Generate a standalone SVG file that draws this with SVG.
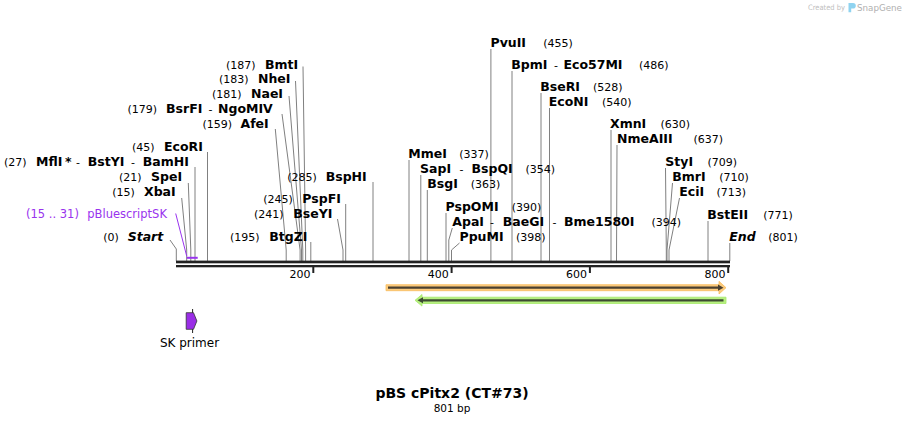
<svg xmlns="http://www.w3.org/2000/svg" width="906" height="424" viewBox="0 0 906 424">
<style>
text{font-family:"DejaVu Sans",Verdana,sans-serif;fill:#000}
.n{font-size:11px}
.b{font-size:12.5px;font-weight:bold}
.bi{font-size:12.5px;font-weight:bold;font-style:italic}
.p{fill:#9933ee;font-size:11.5px}
.cut{stroke:#808080;stroke-width:1;fill:none}
.tick{stroke:#222;stroke-width:2}
.rl{font-size:11px;text-anchor:end}
</style>
<rect width="906" height="424" fill="#fff"/>
<g id="logo">
<text x="808" y="10" textLength="37" lengthAdjust="spacingAndGlyphs" style="font-size:7.5px;fill:#c0c0c0">Created by</text>
<path d="M848.5 3 h4.5 a2.8 2.8 0 0 1 0 5.6 h-1.8 v3.6 h-2.7 z" fill="#8fd3f0"/>
<text x="857" y="10.5" textLength="45" lengthAdjust="spacingAndGlyphs" style="font-size:9px;fill:#b0b0b0">SnapGene</text>
</g>
<g id="connectors">
<polyline class="cut" points="303,66.5 305.6,250 305.6,261"/>
<polyline class="cut" points="295.5,81 302.8,250 302.8,261"/>
<polyline class="cut" points="289,96 301.5,250 301.5,261"/>
<polyline class="cut" points="282,114 300.1,250 300.1,261"/>
<polyline class="cut" points="275.3,129 286.2,250 286.2,261"/>
<polyline class="cut" points="207.5,152 207.5,261"/>
<polyline class="cut" points="195,167 195,261"/>
<polyline class="cut" points="188.3,183 190.8,250 190.8,261"/>
<polyline class="cut" points="181.7,198 186.7,250 186.7,261"/>
<polyline points="175.7,213.5 186.7,256" stroke="#9933ee" stroke-width="1" fill="none"/>
<polyline class="cut" points="170,240 176.3,249 176.3,261"/>
<polyline class="cut" points="310.8,242 310.8,261"/>
<polyline class="cut" points="337.5,219 343,250 343,261"/>
<polyline class="cut" points="345.7,204 345.7,261"/>
<polyline class="cut" points="373,182 373,261"/>
<polyline class="cut" points="490.9,49 490.9,261"/>
<polyline class="cut" points="512,71 512,261"/>
<polyline class="cut" points="541,93 541,261"/>
<polyline class="cut" points="549.5,108 549.5,261"/>
<polyline class="cut" points="611,130 611,261"/>
<polyline class="cut" points="617,145 616.5,261"/>
<polyline class="cut" points="409,160 409,261"/>
<polyline class="cut" points="420.8,175 420.8,261"/>
<polyline class="cut" points="427.3,190 427.3,261"/>
<polyline class="cut" points="446,213 446,261"/>
<polyline class="cut" points="452.3,228 448.8,240 448.8,261"/>
<polyline class="cut" points="459.5,243 451.5,250 451.5,261"/>
<polyline class="cut" points="665.5,168 666.3,250 666.3,261"/>
<polyline class="cut" points="672.5,183 667,250 667,261"/>
<polyline class="cut" points="679.5,198 669,250 669,261"/>
<polyline class="cut" points="708,221 708,261"/>
<polyline class="cut" points="729.8,243 729.8,261"/>
</g>
<g id="backbone">
<rect x="176" y="260.6" width="554" height="2.7" fill="#222"/>
<rect x="176" y="265" width="554" height="2.3" fill="#222"/>
<rect x="186.7" y="256.8" width="11" height="2" fill="#9933ee"/>
<line class="tick" x1="313.3" y1="267" x2="313.3" y2="273"/>
<line class="tick" x1="451.6" y1="267" x2="451.6" y2="273"/>
<line class="tick" x1="589.9" y1="267" x2="589.9" y2="273"/>
<line class="tick" x1="728.2" y1="267" x2="728.2" y2="273"/>
<text class="rl" x="310.5" y="278">200</text>
<text class="rl" x="448.8" y="278">400</text>
<text class="rl" x="587.1" y="278">600</text>
<text class="rl" x="725.4" y="278">800</text>
</g>
<g id="feature-orange">
<path d="M386,284.7 H719 V281.3 L726,287.7 L719,294 V290.7 H386 Z" fill="#fccb7d" stroke="#f7bd5e" stroke-width="0.8"/>
<path d="M388,286.6 H718 V284.6 L723.5,287.7 L718,290.8 V288.8 H388 Z" fill="#4a4030"/>
</g>
<g id="feature-green">
<path d="M415,300.3 L422,294.5 V297.2 H726 V303.5 H422 V306.1 Z" fill="#b6f07f" stroke="#a6e86b" stroke-width="0.8"/>
<path d="M417.5,300.3 L423,297.3 V299.2 H723.5 V301.5 H423 V303.3 Z" fill="#3d4a32"/>
</g>
<g id="sk-primer">
<line x1="192.6" y1="309" x2="192.6" y2="333" stroke="#222" stroke-width="1"/>
<path d="M186.2,312.7 H193.5 L196.9,321 L193.5,329.3 H186.2 Z" fill="#9a2ee6" stroke="#333" stroke-width="0.8"/>
<text x="189.5" y="347" text-anchor="middle" style="font-size:12px">SK primer</text>
</g>
<g id="enz-BmtI"><text><tspan class="n" x="226" y="68.5">(187)</tspan><tspan class="b" x="265" y="68.5">BmtI</tspan></text></g>
<g id="enz-NheI"><text><tspan class="n" x="219" y="83">(183)</tspan><tspan class="b" x="258" y="83">NheI</tspan></text></g>
<g id="enz-NaeI"><text><tspan class="n" x="212" y="98">(181)</tspan><tspan class="b" x="251" y="98">NaeI</tspan></text></g>
<g id="enz-BsrFI"><text><tspan class="n" x="127.5" y="113">(179)</tspan><tspan class="b" x="166" y="113">BsrFI</tspan><tspan class="n" x="208.5" y="113">-</tspan><tspan class="b" x="218" y="113">NgoMIV</tspan></text></g>
<g id="enz-AfeI"><text><tspan class="n" x="202.5" y="128">(159)</tspan><tspan class="b" x="240.5" y="128">AfeI</tspan></text></g>
<g id="enz-EcoRI"><text><tspan class="n" x="132" y="150.5">(45)</tspan><tspan class="b" x="164" y="150.5">EcoRI</tspan></text></g>
<g id="enz-MflI"><text><tspan class="n" x="4" y="165.5">(27)</tspan><tspan class="b" x="36" y="165.5">MflI</tspan><tspan class="b" x="65" y="165.5">*</tspan><tspan class="n" x="76" y="165.5">-</tspan><tspan class="b" x="87.7" y="165.5">BstYI</tspan><tspan class="n" x="131" y="165.5">-</tspan><tspan class="b" x="142.7" y="165.5">BamHI</tspan></text></g>
<g id="enz-SpeI"><text><tspan class="n" x="119" y="181">(21)</tspan><tspan class="b" x="151" y="181">SpeI</tspan></text></g>
<g id="enz-XbaI"><text><tspan class="n" x="112.3" y="196">(15)</tspan><tspan class="b" x="144" y="196">XbaI</tspan></text></g>
<g id="feat-pBluescriptSK"><text class="p"><tspan x="26" y="217.5">(15 .. 31)</tspan><tspan x="87.3" y="217.5">pBluescriptSK</tspan></text></g>
<g id="start"><text><tspan class="n" x="103.3" y="241">(0)</tspan><tspan class="bi" x="127.7" y="241">Start</tspan></text></g>
<g id="enz-BtgZI"><text><tspan class="n" x="230" y="241">(195)</tspan><tspan class="b" x="269.3" y="241">BtgZI</tspan></text></g>
<g id="enz-BseYI"><text><tspan class="n" x="254" y="218">(241)</tspan><tspan class="b" x="293.3" y="218">BseYI</tspan></text></g>
<g id="enz-PspFI"><text><tspan class="n" x="263.3" y="203">(245)</tspan><tspan class="b" x="302.3" y="203">PspFI</tspan></text></g>
<g id="enz-BspHI"><text><tspan class="n" x="287.3" y="181">(285)</tspan><tspan class="b" x="325.7" y="181">BspHI</tspan></text></g>
<g id="enz-PvuII"><text><tspan class="b" x="490.5" y="46.5">PvuII</tspan><tspan class="n" x="543.3" y="46.5">(455)</tspan></text></g>
<g id="enz-BpmI"><text><tspan class="b" x="511.3" y="68.5">BpmI</tspan><tspan class="n" x="554" y="68.5">-</tspan><tspan class="b" x="563.5" y="68.5">Eco57MI</tspan><tspan class="n" x="639" y="68.5">(486)</tspan></text></g>
<g id="enz-BseRI"><text><tspan class="b" x="540.3" y="91">BseRI</tspan><tspan class="n" x="593" y="91">(528)</tspan></text></g>
<g id="enz-EcoNI"><text><tspan class="b" x="548.7" y="106">EcoNI</tspan><tspan class="n" x="602" y="106">(540)</tspan></text></g>
<g id="enz-XmnI"><text><tspan class="b" x="610" y="128">XmnI</tspan><tspan class="n" x="660.5" y="128">(630)</tspan></text></g>
<g id="enz-NmeAIII"><text><tspan class="b" x="617" y="143">NmeAIII</tspan><tspan class="n" x="693.5" y="143">(637)</tspan></text></g>
<g id="enz-MmeI"><text><tspan class="b" x="408.3" y="158">MmeI</tspan><tspan class="n" x="459.3" y="158">(337)</tspan></text></g>
<g id="enz-SapI"><text><tspan class="b" x="420" y="173">SapI</tspan><tspan class="n" x="459.5" y="173">-</tspan><tspan class="b" x="471.5" y="173">BspQI</tspan><tspan class="n" x="525.5" y="173">(354)</tspan></text></g>
<g id="enz-BsgI"><text><tspan class="b" x="427.3" y="188">BsgI</tspan><tspan class="n" x="470.7" y="188">(363)</tspan></text></g>
<g id="enz-PspOMI"><text><tspan class="b" x="445.5" y="211">PspOMI</tspan><tspan class="n" x="511.7" y="211">(390)</tspan></text></g>
<g id="enz-ApaI"><text><tspan class="b" x="452.3" y="226">ApaI</tspan><tspan class="n" x="490" y="226">-</tspan><tspan class="b" x="502.7" y="226">BaeGI</tspan><tspan class="n" x="552.5" y="226">-</tspan><tspan class="b" x="564" y="226">Bme1580I</tspan><tspan class="n" x="651.5" y="226">(394)</tspan></text></g>
<g id="enz-PpuMI"><text><tspan class="b" x="459.5" y="241">PpuMI</tspan><tspan class="n" x="516" y="241">(398)</tspan></text></g>
<g id="enz-StyI"><text><tspan class="b" x="665.3" y="166">StyI</tspan><tspan class="n" x="707.5" y="166">(709)</tspan></text></g>
<g id="enz-BmrI"><text><tspan class="b" x="672.3" y="181">BmrI</tspan><tspan class="n" x="719.3" y="181">(710)</tspan></text></g>
<g id="enz-EciI"><text><tspan class="b" x="679.3" y="196">EciI</tspan><tspan class="n" x="716.5" y="196">(713)</tspan></text></g>
<g id="enz-BstEII"><text><tspan class="b" x="707.3" y="218.5">BstEII</tspan><tspan class="n" x="763.3" y="218.5">(771)</tspan></text></g>
<g id="end"><text><tspan class="bi" x="729.3" y="241">End</tspan><tspan class="n" x="768.3" y="241">(801)</tspan></text></g>
<g id="title">
<text x="452" y="398" text-anchor="middle" style="font-size:14px;font-weight:bold">pBS cPitx2 (CT#73)</text>
<text x="452" y="412" text-anchor="middle" style="font-size:10.5px">801 bp</text>
</g>
</svg>
